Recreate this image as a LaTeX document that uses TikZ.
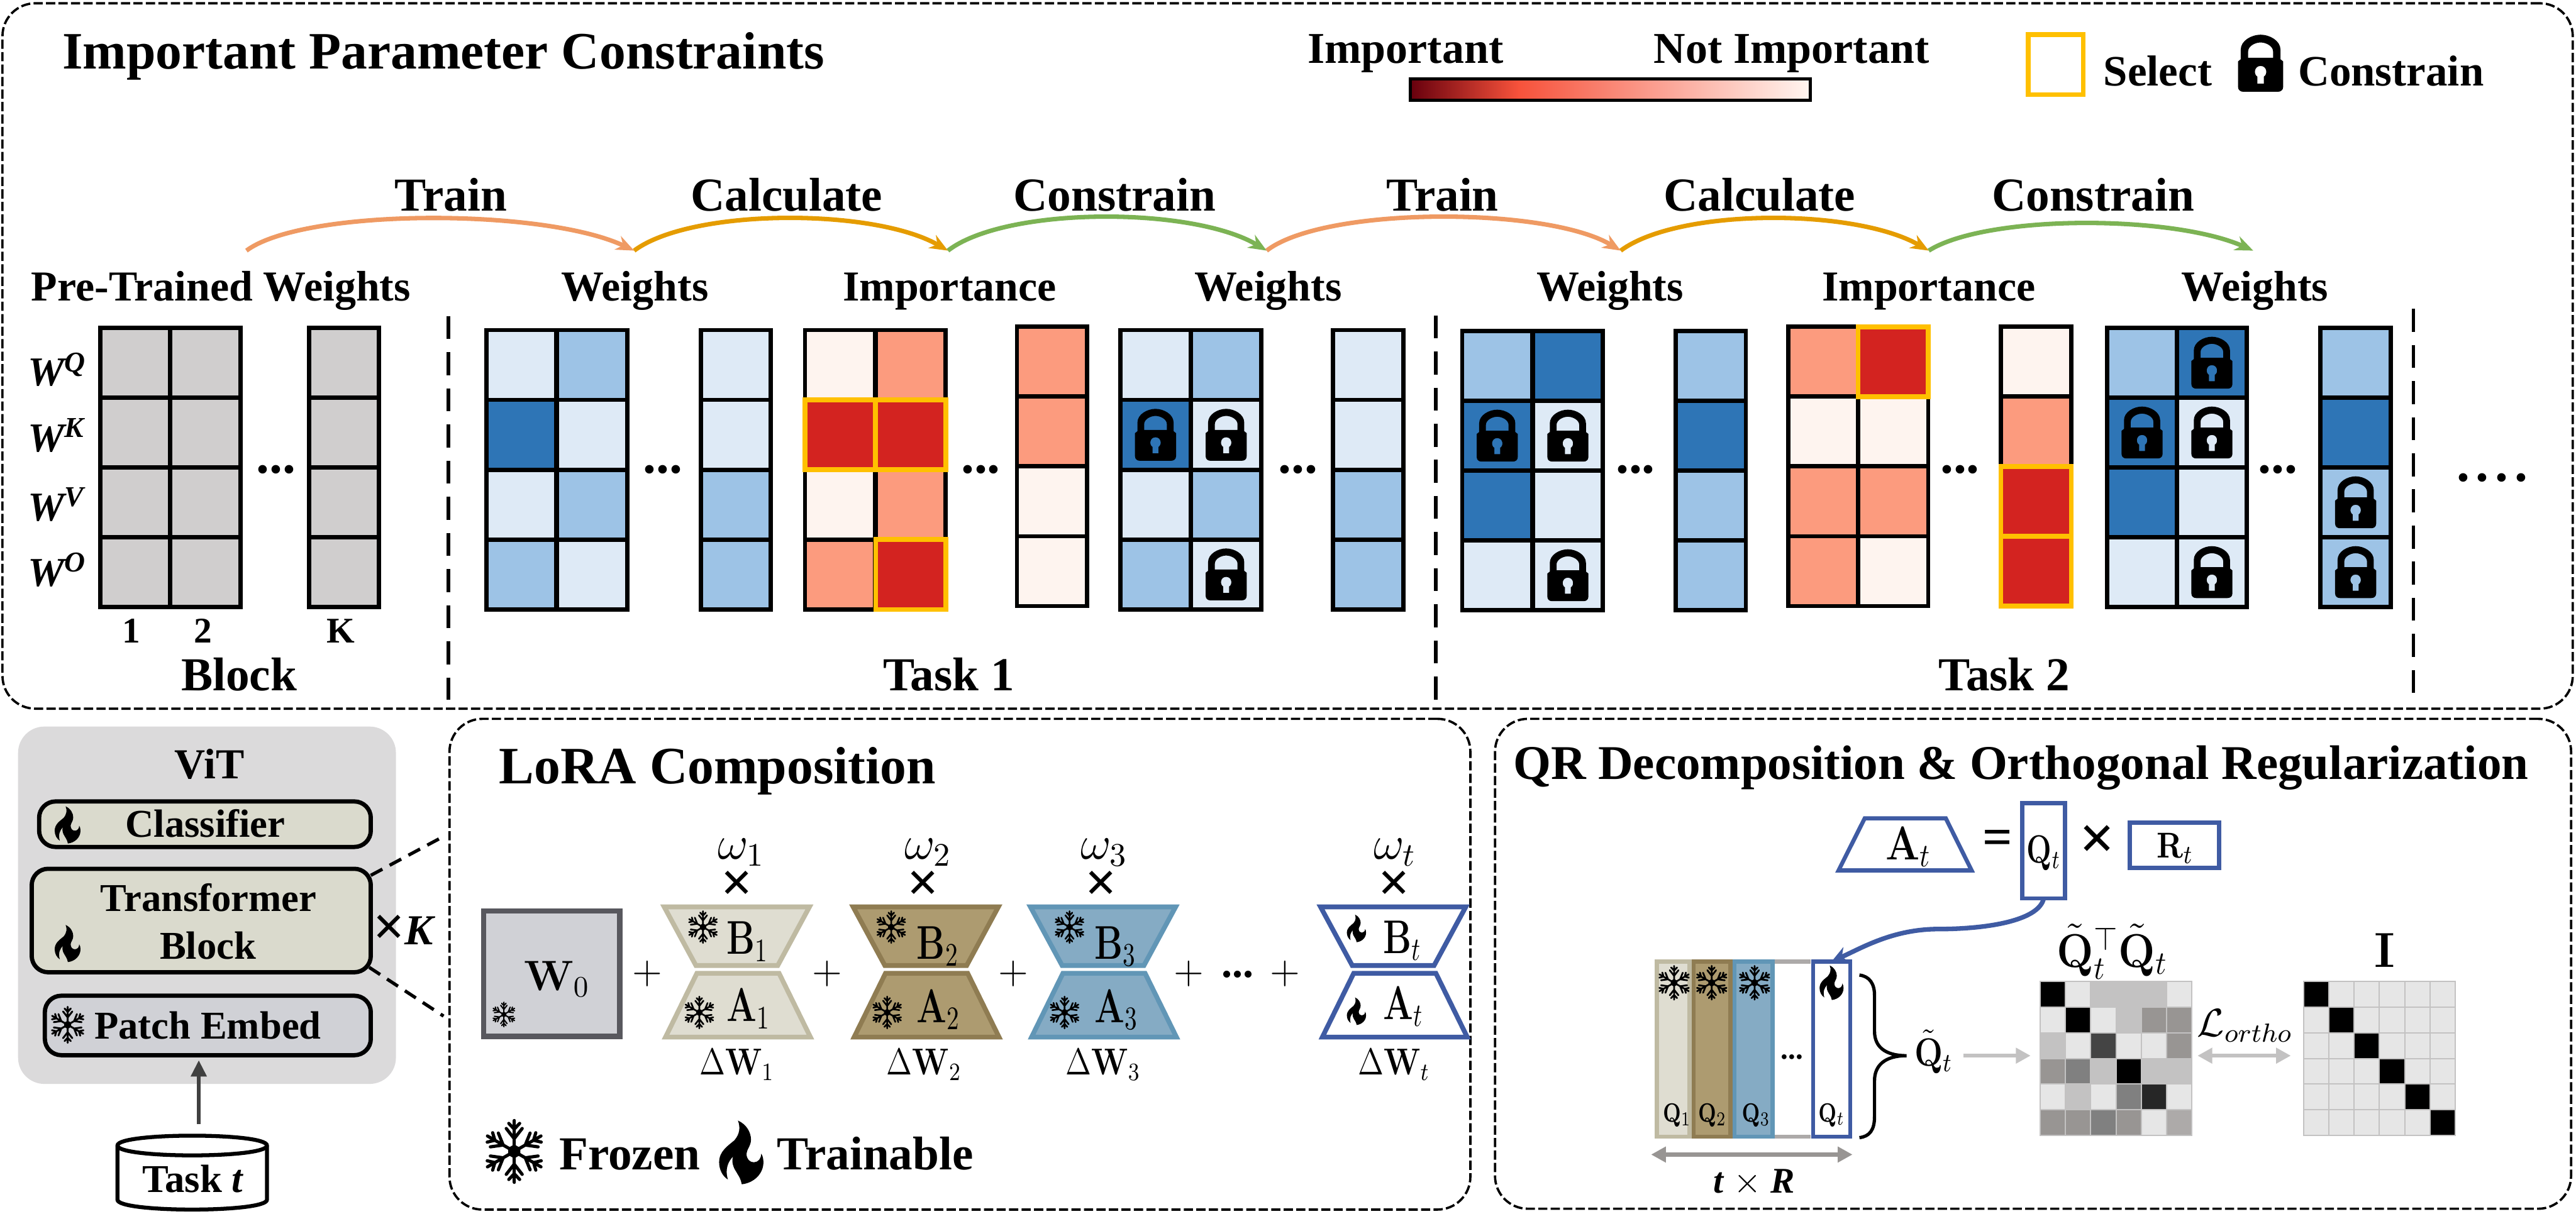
\documentclass[tikz,border=0pt]{standalone}
\usepackage[no-math]{fontspec}
\setmainfont{Liberation Serif}
\usetikzlibrary{arrows.meta, positioning, calc}
\definecolor{wL}{HTML}{DEEAF6}
\definecolor{wM}{HTML}{9DC3E6}
\definecolor{wD}{HTML}{2E75B6}
\definecolor{rL}{HTML}{FEF4EF}
\definecolor{rM}{HTML}{FC9B7E}
\definecolor{rD}{HTML}{D32320}
\definecolor{gP}{HTML}{D0CECE}
\definecolor{pick}{HTML}{FFC000}
\definecolor{impDark}{HTML}{67000D}
\definecolor{impMid}{HTML}{F7523B}
\definecolor{impLight}{HTML}{FFF5F0}
\definecolor{arcTrain}{HTML}{EF9A63}
\definecolor{arcCalc}{HTML}{E59C00}
\definecolor{arcCons}{HTML}{7CB354}
\definecolor{vitBg}{HTML}{DBDADB}
\definecolor{vitCream}{HTML}{DADACD}
\definecolor{vitSlate}{HTML}{D0D1D6}
\definecolor{loraLs}{HTML}{BFBAA2}
\definecolor{loraLf}{HTML}{DFDDD1}
\definecolor{loraBs}{HTML}{8F7C52}
\definecolor{loraBf}{HTML}{AD9B70}
\definecolor{loraCs}{HTML}{6196B6}
\definecolor{loraCf}{HTML}{85ABC4}
\definecolor{loraT}{HTML}{3F5BA3}
\definecolor{baseS}{HTML}{58585E}
\definecolor{gK}{HTML}{000000}
\definecolor{gH}{HTML}{262626}
\definecolor{gG}{HTML}{444444}
\definecolor{gM}{HTML}{808080}
\definecolor{gD}{HTML}{989593}
\definecolor{gA}{HTML}{ADAAA9}
\definecolor{gC}{HTML}{C3C2C2}
\definecolor{gE}{HTML}{E6E6E6}
\pgfdeclarehorizontalshading{impbar}{100bp}{color(0bp)=(impDark); color(25bp)=(impDark); color(38.5bp)=(impMid); color(75bp)=(impLight); color(100bp)=(impLight)}
\newcommand{\ptsize}[1]{\fontsize{#1}{#1}\selectfont}
\newcommand{\narrowed}[1]{\scalebox{.75}[1]{#1}}
\newcommand{\cellcol}[4]{\foreach \cl [count=\rowi] in {#4}
  \node[cell, fill=\cl] (#1-\rowi) at ({#2+21.35},{#3+42.5*(\rowi-0.5)}) {};}
\newcommand{\simgrid}[4]{\foreach \rw [count=\rowi] in {#4} \foreach \cl [count=\coli] in \rw
  \node[simcell, fill=\cl] (#1-\rowi-\coli) at ({#2+15.4*(\coli-0.5)},{#3+15.6*(\rowi-0.5)}) {};}
\newcommand{\spanbox}[6]{\node[#6, minimum width={(#4-#2)*0.5pt}, minimum height={(#5-#3)*0.5pt}]
  (#1) at ({(#2+#4)/2},{(#3+#5)/2}) {};}
\newcommand{\hourglass}[4]{%
  \draw[trap, draw=#3, fill=#4] ({#1-44.2},552.2) -- ({#1+44.2},552.2) -- ({#1+24.9},587.9) -- ({#1-24.9},587.9) -- cycle;
  \draw[trap, draw=#3, fill=#4] ({#2-25},592.6) -- ({#2+25},592.6) -- ({#2+44.1},631.5) -- ({#2-44.1},631.5) -- cycle;}
\tikzset{
  cell/.style={draw=black, line width=1.3pt, minimum width=21.35pt, minimum height=21.25pt,
    inner sep=0pt, outer sep=0pt},
  simcell/.style={draw=gC, line width=0.4pt, minimum width=7.7pt, minimum height=7.8pt,
    inner sep=0pt, outer sep=0pt},
  picked/.style={draw=pick, line width=1.4pt},
  panel/.style={draw=black, line width=0.7pt, dash pattern=on 2.8pt off 1pt, rounded corners=10pt,
    inner sep=0pt, outer sep=0pt},
  vbar/.style={draw=black, line width=1.1pt, dash pattern=on 7pt off 4pt},
  title/.style={font=\ptsize{16}\bfseries, anchor=base west, inner sep=0pt},
  hdr/.style={font=\ptsize{13}\bfseries, anchor=base, inner sep=0pt},
  verb/.style={font=\ptsize{14.4}\bfseries, anchor=base, inner sep=0pt},
  rowlab/.style={font=\ptsize{12.5}\bfseries\itshape, anchor=base west, inner sep=0pt},
  dots/.style={font=\ptsize{16}\bfseries, anchor=base, inner sep=0pt},
  vitbox/.style={draw=black, line width=1.3pt, rounded corners=5pt, fill=vitCream, inner sep=0pt, outer sep=0pt},
  vitlab/.style={font=\ptsize{12}\bfseries, anchor=base, inner sep=0pt},
  trap/.style={line width=1.45pt},
  qbox/.style={line width=1.3pt, inner sep=0pt, outer sep=0pt, fill=white, draw=loraT},
  eqn/.style={font=\ptsize{14.4}, anchor=base west, inner sep=0pt},
  signmark/.style={font=\ptsize{17}\bfseries, inner sep=0pt},
  plussign/.style={font=\ptsize{12}, inner sep=0pt},
  flowg/.style={{Triangle[length=4.5pt,width=4.6pt]}-{Triangle[length=4.5pt,width=4.6pt]}, line width=1.25pt, draw=gC},
  flowgs/.style={-{Triangle[length=4.5pt,width=4.6pt]}, line width=1.25pt, draw=gC},
  flowarc/.style={-{Stealth[length=5.5pt,width=4.5pt]}, line width=1.35pt},
  pics/lock/.style={code={
    \fill[black, even odd rule] (-11,-2.2) -- (-11,-7.5) .. controls (-11,-12.5) and (-5,-15.8) .. (0,-15.8)
      .. controls (5,-15.8) and (11,-12.5) .. (11,-7.5) -- (11,-2.2) -- (12.5,-1) -- (12.5,13)
      .. controls (12.5,15) and (11,15.8) .. (9.5,15.8) -- (-9.5,15.8)
      .. controls (-11,15.8) and (-12.5,15) .. (-12.5,13) -- (-12.5,-1) -- cycle
      (-6.9,-3) -- (-6.9,-6.5) .. controls (-6.9,-9.5) and (-3,-11.5) .. (0,-11.5)
      .. controls (3,-11.5) and (6.9,-9.5) .. (6.9,-6.5) -- (6.9,-3) -- cycle
      (-1.8,11.3) -- (-1.8,7.4) .. controls (-4,6.2) and (-3.6,1.5) .. (0,1.5)
      .. controls (3.6,1.5) and (4,6.2) .. (1.8,7.4) -- (1.8,11.3) -- cycle;
  }},
  pics/flake/.style={code={
    \fill[black, scale=#1] (0,-.22) -- (.19,-.11) -- (.19,.11) -- (0,.22) -- (-.19,.11) -- (-.19,-.11) -- cycle;
    \foreach \ang in {30,90,...,330}
      \draw[black, scale=#1, rotate=\ang, line width=#1*0.05pt, line cap=round]
        (0,0) -- (.97,0) (.4,0) -- (.72,.25) (.4,0) -- (.72,-.25) (.7,0) -- (.88,.17) (.7,0) -- (.88,-.17);
  }},
  pics/flame/.style={code={
    \fill[black, scale=#1] (-.11,-1) .. controls (.16,-.88) and (.30,-.63) .. (.30,-.40)
      .. controls (.30,-.21) and (.16,-.08) .. (.16,.04)
      .. controls (.16,.21) and (.26,.31) .. (.39,.31)
      .. controls (.53,.31) and (.62,.19) .. (.62,.04)
      .. controls (.67,.10) and (.69,.21) .. (.69,.31)
      .. controls (.69,.67) and (.39,.96) .. (.01,1)
      .. controls (-.03,.79) and (-.11,.71) .. (-.18,.58)
      .. controls (-.26,.46) and (-.32,.27) .. (-.26,.125)
      .. controls (-.40,.27) and (-.53,.5) .. (-.425,.85)
      .. controls (-.59,.75) and (-.70,.54) .. (-.70,.31)
      .. controls (-.70,-.04) and (-.42,-.21) .. (-.22,-.38)
      .. controls (-.05,-.58) and (-.03,-.79) .. (-.11,-1) -- cycle;
  }},
}
\begin{document}
\begin{tikzpicture}[x=0.5pt, y=-0.5pt]
  \useasboundingbox (0,0) rectangle (1568,739.2);
  % top panel
  \spanbox{ipc}{1.5}{2}{1566}{431.5}{panel}
  \node[title] (ipctitle) at (37.5,41.8) {Important Parameter Constraints};
  \node[hdr, font=\ptsize{13.4}\bfseries] (impl) at (855.5,38.5) {Important};
  \node[hdr, font=\ptsize{13.4}\bfseries] (notimp) at (1090.5,38.5) {Not Important};
  \spanbox{impbar}{858.5}{48}{1102}{61}{draw=black, line width=0.9pt, shading=impbar, inner sep=0pt, outer sep=0pt}
  \spanbox{selkey}{1234.5}{21}{1268}{57.6}{picked}
  \node[hdr, anchor=base west, font=\ptsize{13.2}\bfseries] (selbl) at (1280,52.2) {Select};
  \pic[scale=1.1] at (1376,38.5) {lock};
  \node[hdr, anchor=base west, font=\ptsize{13.2}\bfseries] (conlbl) at (1398.5,52.2) {Constrain};

  \coordinate (a0) at (150,152.6);
  \coordinate (a1) at (386,152.6);
  \coordinate (a2) at (577,152.6);
  \coordinate (a3) at (771,152.6);
  \coordinate (a4) at (986.5,152.6);
  \coordinate (a5) at (1174,152.6);
  \coordinate (a6) at (1371.5,152.6);
  \draw[flowarc, draw=arcTrain] (a0) .. controls +(35,-26) and +(-55,-26) .. (a1);
  \draw[flowarc, draw=arcCalc] (a1) .. controls +(35,-26) and +(-45,-26) .. (a2);
  \draw[flowarc, draw=arcCons] (a2) .. controls +(35,-27) and +(-45,-27) .. (a3);
  \draw[flowarc, draw=arcTrain] (a3) .. controls +(35,-27) and +(-45,-27) .. (a4);
  \draw[flowarc, draw=arcCalc] (a4) .. controls +(35,-26) and +(-45,-26) .. (a5);
  \draw[flowarc, draw=arcCons] (a5) .. controls +(35,-22) and +(-50,-22) .. (a6);
  \foreach \nm/\xx/\tx in {v1/274.5/Train, v2/478.8/Calculate, v3/678.5/Constrain,
      v4/878/Train, v5/1071/Calculate, v6/1274/Constrain}
    \node[verb] (\nm) at (\xx,128.4) {\tx};
  \node[hdr] (pretr) at (134.5,183) {Pre-Trained Weights};
  \foreach \nm/\xx/\tx in {h1/386.5/Weights, h2/578/Importance, h3/772/Weights,
      h4/980/Weights, h5/1174/Importance, h6/1372.5/Weights}
    \node[hdr] (\nm) at (\xx,183) {\tx};

  \foreach \lab/\yy in {Q/235,K/275,V/317,O/357}
    \node[rowlab] (w\lab) at (16.5,\yy) {W\textsuperscript{\lab}};

  % weight grids
  \cellcol{P0a}{61}{199.5}{gP,gP,gP,gP}
  \cellcol{P0b}{103.7}{199.5}{gP,gP,gP,gP}
  \cellcol{P0k}{188}{199.5}{gP,gP,gP,gP}
  \cellcol{W1a}{296}{201}{wL,wD,wL,wM}
  \cellcol{W1b}{339}{201}{wM,wL,wM,wL}
  \cellcol{W1k}{426.5}{201}{wL,wL,wM,wM}
  \cellcol{I1a}{490}{201}{rL,rD,rL,rM}
  \cellcol{I1b}{533}{201}{rM,rD,rM,rD}
  \cellcol{I1k}{619}{199}{rM,rM,rL,rL}
  \cellcol{C1a}{682}{201}{wL,wD,wL,wM}
  \cellcol{C1b}{725}{201}{wM,wL,wM,wL}
  \cellcol{C1k}{811.5}{201}{wL,wL,wM,wM}
  \cellcol{W2a}{890}{201.5}{wM,wD,wD,wL}
  \cellcol{W2b}{933}{201.5}{wD,wL,wL,wL}
  \cellcol{W2k}{1020}{201.5}{wM,wD,wM,wM}
  \cellcol{I2a}{1088.5}{199}{rM,rL,rM,rM}
  \cellcol{I2b}{1131}{199}{rD,rL,rM,rL}
  \cellcol{I2k}{1218}{199}{rL,rM,rD,rD}
  \cellcol{C2a}{1282.5}{199.6}{wM,wD,wD,wL}
  \cellcol{C2b}{1325}{199.6}{wD,wL,wL,wL}
  \cellcol{C2k}{1412.5}{199.6}{wM,wD,wM,wM}
  \foreach \nm in {I1a-2,I1b-2,I1b-4,I2b-1,I2k-3,I2k-4}
    \draw[picked] (\nm.north west) rectangle (\nm.south east);
  \foreach \nm in {C1a-2,C1b-2,C1b-4,W2a-2,W2b-2,W2b-4,C2a-2,C2b-1,C2b-2,C2b-4,C2k-3,C2k-4}
    \pic at (\nm) {lock};
  \foreach \xx in {168,403.5,597,790,995.5,1193,1386.5}
    \node[dots] at (\xx,288) {...};
  \node[dots] (more) at (1517,293.2) {.\kern1.9pt.\kern1.9pt.\kern1.9pt.};

  \foreach \xx/\tx in {80/1,123.5/2,207.5/K}
    \node[hdr, font=\ptsize{11}\bfseries] at (\xx,391.3) {\tx};
  \node[verb] (blk) at (145.5,420.7) {Block};
  \node[verb] (tk1) at (577.5,420.7) {Task 1};
  \node[verb] (tk2) at (1220,420.7) {Task 2};
  \coordinate (d1a) at (273,192.5);
  \coordinate (d1b) at (273,426);
  \coordinate (d2a) at (874,192);
  \coordinate (d2b) at (874,426);
  \coordinate (d3a) at (1469,188);
  \coordinate (d3b) at (1469,422);
  \draw[vbar] (d1a) -- (d1b);
  \draw[vbar] (d2a) -- (d2b);
  \draw[vbar] (d3a) -- (d3b);

  % ViT column
  \spanbox{vit}{11}{442.4}{241}{660}{fill=vitBg, rounded corners=8pt, inner sep=0pt, outer sep=0pt}
  \node[vitlab, font=\ptsize{13}\bfseries] (vitt) at (127.6,474) {ViT};
  \spanbox{clsbox}{23.8}{488}{225.7}{515.7}{vitbox}
  \spanbox{tblock}{19.3}{529}{225.7}{592}{vitbox}
  \spanbox{patch}{27.3}{606.3}{225.7}{642.5}{vitbox, fill=vitSlate}
  \node[vitlab] (clsl) at (125,509.7) {Classifier};
  \node[vitlab] (tbl1) at (127,554.9) {Transformer};
  \node[vitlab] (tbl2) at (126.6,584) {Block};
  \node[vitlab] (ptl) at (126.5,632.4) {Patch Embed};
  \pic at (41.2,502.3) {flame=11.3};
  \pic at (41.2,574.5) {flame=11.3};
  \pic at (41.2,624) {flake=11.3};
  \node[signmark] (timesk) at (237,566.5) {×};
  \node[vitlab, font=\ptsize{13}\bfseries\itshape] (bigk) at (255,575) {K};
  % task store
  \draw[draw=black, fill=white, line width=1.2pt] (71.5,697.5) -- (71.5,730.5) .. controls (71.5,738.5) and (162.5,738.5) .. (162.5,730.5)
    -- (162.5,697.5) .. controls (162.5,689.5) and (71.5,689.5) .. (71.5,697.5) -- cycle;
  \draw[draw=black, line width=1.2pt] (71.5,697.5) .. controls (71.5,705.5) and (162.5,705.5) .. (162.5,697.5);
  \node[vitlab] (taskl) at (117.5,726) {Task \textit{t}};
  \coordinate (tasktop) at (121,691.5);
  \draw[-{Triangle[length=5pt,width=4.6pt]}, line width=1.25pt, draw=black!75, shorten <=3.5pt, shorten >=1.5pt]
    (tasktop) -- (tasktop |- patch.south);
  \coordinate (zoomtop) at (270,509.3);
  \coordinate (zoombot) at (270,618.7);
  \draw[line width=1pt, dash pattern=on 4pt off 2.5pt] (tblock.north east) ++(0,4) -- (zoomtop);
  \draw[line width=1pt, dash pattern=on 4pt off 2.5pt] (tblock.south east) ++(-1,-3) -- (zoombot);

  % LoRA panel
  \spanbox{lora}{273.6}{437.7}{895}{736.5}{panel}
  \node[title] (loratitle) at (303.5,477) {LoRA Composition};
  \spanbox{wzero}{294.4}{554.7}{377.2}{631}{draw=baseS, line width=1.7pt, fill=vitSlate, inner sep=0pt, outer sep=0pt}
  \node[eqn, anchor=base] (wzl) at (339,603) {\scalebox{.9}{$\mathbf{W}_0$}};
  \pic at (306.7,617.7) {flake=7.7};
  \hourglass{448.5}{449.2}{loraLs}{loraLf}
  \hourglass{563.5}{564}{loraBs}{loraBf}
  \hourglass{671.4}{672}{loraCs}{loraCf}
  \hourglass{848}{849}{loraT}{white}
  \foreach \nm/\xx/\yb/\ya/\tx in {1/442/581/622/1, 2/557.7/584/622.6/2, 3/666/584/622.6/3, t/841.5/580.5/620.6/t} {
    \node[eqn] (bl\nm) at (\xx,\yb) {\narrowed{$\mathbf{B}_{\tx}$}};
    \node[eqn] (al\nm) at (\xx,\ya) {\narrowed{$\mathbf{A}_{\tx}$}};
  }
  \foreach \xb/\xa in {427.9/425.7, 542.5/540, 651/648} {
    \pic at (\xb,564.5) {flake=10};
    \pic at (\xa,616.5) {flake=10};
  }
  \pic at (825.7,565.3) {flame=8.4};
  \pic at (825.7,615.7) {flame=8.4};
  \foreach \nm/\xx/\xm/\xd in {1/451.3/448.5/448.5, 2/565/561.8/562.5, 3/672/670.2/671.5, t/849/848.5/848.5} {
    \node[eqn, anchor=center] (om\nm) at (\xx,519) {$\omega_{\nm}$};
    \node[signmark] (tm\nm) at (\xm,539.5) {×};
    \node[eqn, font=\ptsize{12}, anchor=base] (dw\nm) at (\xd,654.4) {\scalebox{.8}[.95]{$\Delta\mathbf{W}_{\nm}$}};
  }
  \foreach \xx in {394.2,503.5,616.8,723.6,782.3}
    \node[plussign] at (\xx,593) {$+$};
  \node[dots, font=\ptsize{13}\bfseries] (ldots) at (753.4,595) {...};
  \pic at (313,701.1) {flake=19.4};
  \node[title, font=\ptsize{14.4}\bfseries] (frozen) at (340,712.3) {Frozen};
  \pic at (451.3,701.7) {flame=19.4};
  \node[title, font=\ptsize{14.4}\bfseries] (trainable) at (472.6,712.3) {Trainable};

  % QR panel
  \spanbox{qrp}{910}{437.7}{1565}{736}{panel}
  \node[title, font=\ptsize{14.75}\bfseries] (qrtitle) at (920.8,474.4) {QR Decomposition \& Orthogonal Regularization};
  \draw[trap, line width=1.25pt, draw=loraT, fill=white] (1135,498.3) -- (1184.4,498.3) -- (1200.1,530) -- (1119.1,530) -- cycle;
  \node[eqn] (atl) at (1147.4,523.5) {\scalebox{.85}[1]{$\mathbf{A}_t$}};
  \node[signmark, font=\ptsize{16}\bfseries] (eqs) at (1216,513) {=};
  \spanbox{qtbox}{1231}{489}{1257}{547}{qbox}
  \node[eqn, font=\ptsize{12}, anchor=base] (qtl) at (1244,525.4) {\narrowed{$\mathbf{Q}_t$}};
  \node[signmark, font=\ptsize{19}\bfseries] (tms) at (1276.5,513) {×};
  \spanbox{rtbox}{1296.3}{501}{1350.7}{528.4}{qbox}
  \node[eqn, font=\ptsize{10.95}, anchor=base] (rtl) at (1324,522.5) {\scalebox{.85}[1]{$\mathbf{R}_t$}};

  \spanbox{q1}{1008.6}{585.4}{1028.3}{692.1}{qbox, draw=loraLs, fill=loraLf}
  \spanbox{q2}{1030.9}{585.4}{1053.2}{692.1}{qbox, draw=loraBs, fill=loraBf}
  \spanbox{q3}{1055.8}{585.4}{1079}{692.1}{qbox, draw=loraCs, fill=loraCf}
  \spanbox{qgap}{1080.3}{585.4}{1102.2}{692.1}{fill=white, inner sep=0pt, outer sep=0pt}
  \draw[line width=1.3pt, draw=gA] (qgap.north west) -- (qgap.north east);
  \draw[line width=1.3pt, draw=gA] (qgap.south west) -- (qgap.south east);
  \spanbox{qn}{1103.6}{585.4}{1126.2}{692.1}{qbox}
  \foreach \xx in {1019,1041.9,1068} \pic at (\xx,598.4) {flake=10.6};
  \pic at (1114.9,598.4) {flame=10.5};
  \foreach \nm/\xx in {1/1020.8,2/1042.3,3/1068.9,t/1114.9}
    \node[eqn, font=\ptsize{8}, anchor=base] (ql\nm) at (\xx,683) {\narrowed{$\mathbf{Q}_{\nm}$}};
  \node[dots, font=\ptsize{9}\bfseries] (qdots) at (1090.8,645) {...};
  \draw[-{Stealth[length=5pt,width=5pt]}, line width=1.4pt, draw=loraT]
    (qtbox.south) .. controls +(-3,14) and +(28,0) .. (1180,565.7) .. controls +(-28,0) and +(18,-8) .. (qn.north);
  \draw[line width=1pt, draw=black] (1131.8,593.7) .. controls (1138,594.5) and (1141,599) .. (1141,606) -- (1141,628)
    .. controls (1141,637) and (1147,642.8) .. (1160.5,642.8) .. controls (1147,642.8) and (1141,649) .. (1141,658)
    -- (1141,680) .. controls (1141,688) and (1138,692) .. (1131.8,692.7);
  \node[eqn, font=\ptsize{12}, anchor=base] (qtilde) at (1177,649) {\scalebox{.85}[1]{$\tilde{\mathbf{Q}}_t$}};
  \coordinate (qfrom) at (1195,642.8);
  \coordinate (qto) at (1236,642.8);
  \draw[flowgs] (qfrom) -- (qto);
  \simgrid{sim}{1241.8}{597.7}{{gK,gE,gC,gC,gC,gE},{gE,gK,gE,gC,gD,gD},{gC,gE,gG,gE,gE,gD},{gD,gM,gC,gK,gC,gC},{gE,gC,gE,gM,gH,gE},{gD,gD,gM,gD,gE,gA}}
  \simgrid{idn}{1402.1}{597.7}{{gK,gE,gE,gE,gE,gE},{gE,gK,gE,gE,gE,gE},{gE,gE,gK,gE,gE,gE},{gE,gE,gE,gK,gE,gE},{gE,gE,gE,gE,gK,gE},{gE,gE,gE,gE,gE,gK}}
  \node[eqn, anchor=base] (simt) at (1285.8,589) {\scalebox{.92}[1]{$\tilde{\mathbf{Q}}_t^{\top}\tilde{\mathbf{Q}}_t$}};
  \node[eqn, anchor=base] (idt) at (1451.6,589) {\scalebox{1.04}{$\mathbf{I}$}};
  \node[eqn, font=\ptsize{12}, anchor=base] (lortho) at (1366.5,631) {$\mathcal{L}_{ortho}$};
  \coordinate (dbla) at (1337.6,642.8);
  \coordinate (dblb) at (1394.4,642.8);
  \draw[flowg] (dbla) -- (dblb);
  \coordinate (twa) at (1005,703);
  \coordinate (twb) at (1127.6,703);
  \draw[flowg, draw=gD] (twa) -- (twb);
  \node[eqn, font=\ptsize{11}, anchor=base] (twr) at (1067.6,726.2) {\textbf{\textit{t}} $\times$ \textbf{\textit{R}}};
\end{tikzpicture}
\end{document}
